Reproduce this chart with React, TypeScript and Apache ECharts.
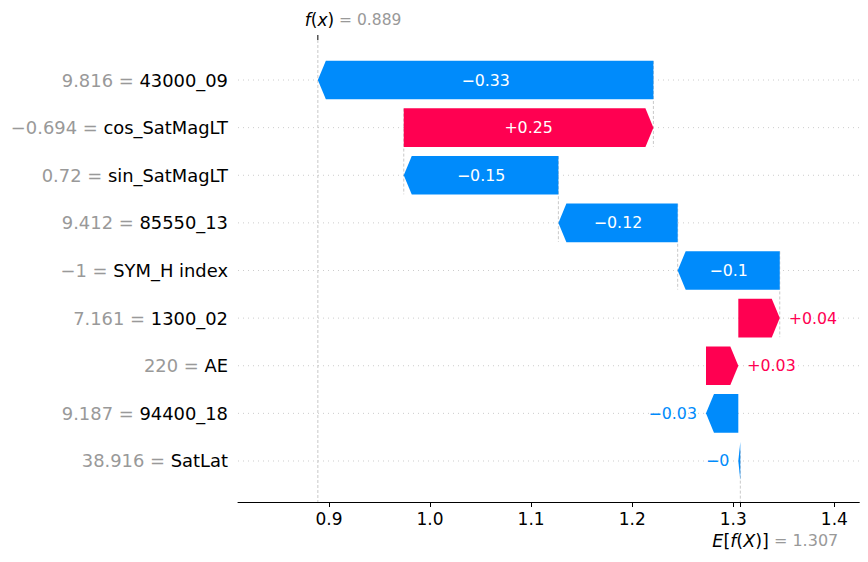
import React, { useEffect, useRef } from "react";
import * as echarts from "echarts";

// ---- data (top row first) ----
const features = [
  "43000_09",
  "cos_SatMagLT",
  "sin_SatMagLT",
  "85550_13",
  "SYM_H index",
  "1300_02",
  "AE",
  "94400_18",
  "SatLat",
];
const featureValues = ["9.816", "\u22120.694", "0.72", "9.412", "\u22121", "7.161", "220", "9.187", "38.916"];
const shapValues = [-0.332, 0.247, -0.153, -0.118, -0.101, 0.041, 0.032, -0.032, -0.002];
const baseValue = 1.307;
const fxValue = 0.889;
const xTicks = [0.9, 1.0, 1.1, 1.2, 1.3, 1.4];
const xMin = 0.81;
const xMax = 1.4247;

const POS = "#ff0051";
const NEG = "#008bfb";
const FONT = "DejaVu Sans";

// cumulative starts / ends, accumulated from the base value at the bottom upwards
const starts: number[] = new Array(features.length);
const ends: number[] = new Array(features.length);
{
  let cum = baseValue;
  for (let i = features.length - 1; i >= 0; i--) {
    starts[i] = cum;
    ends[i] = cum + shapValues[i];
    cum = ends[i];
  }
}

const fmtShap = (v: number) => {
  const a = Number(Math.abs(v).toFixed(2)).toString();
  return (v > 0 ? "+" : "\u2212") + a;
};

export default function App() {
  const ref = useRef<HTMLDivElement>(null);
  useEffect(() => {
    if (!ref.current) return;
    const chart = echarts.init(ref.current, null, { renderer: "svg" });
    const n = features.length;
    const TOP_EXT = 0.84; // axes top above first row (in bands)
    const BOT_EXT = 0.86; // axes bottom below last row (in bands)

    const option: any = {
      animation: false,
      grid: { left: 238, right: 8.7, top: 56.2, bottom: 77.2 },
      xAxis: {
        type: "value",
        min: xMin,
        max: xMax,
        position: "bottom",
        offset: 17.2,
        axisLine: { show: true, lineStyle: { color: "#000", width: 1 } },
        axisTick: {
          show: true,
          length: 5,
          customValues: [...xTicks, baseValue],
          lineStyle: { color: "#000", width: 1 },
        },
        axisLabel: {
          customValues: xTicks,
          formatter: (v: number) => v.toFixed(1),
          fontFamily: FONT,
          fontSize: 17,
          color: "#000",
          margin: 8,
        },
        splitLine: { show: false },
      },
      yAxis: {
        type: "category",
        data: features,
        inverse: true,
        axisLine: { show: false },
        axisTick: { show: false },
        splitLine: { show: false },
        axisLabel: {
          margin: 10,
          formatter: (val: string, idx: number) => `{v|${featureValues[idx]} = }{n|${val}}`,
          rich: {
            v: { fontFamily: FONT, fontSize: 17.9, color: "#999999" },
            n: { fontFamily: FONT, fontSize: 17.9, color: "#000000" },
          },
        },
      },
      series: [
        {
          type: "custom",
          name: "guides",
          silent: true,
          z: 1,
          data: features.map((_, i) => [starts[i], i]),
          encode: { x: 0, y: 1 },
          renderItem: (params: any, api: any) => {
            const s = api.value(0);
            const i = api.value(1);
            const cs = params.coordSys;
            const band = api.size([0, 1])[1];
            const p = api.coord([s, i]);
            const cy = p[1];
            const children: any[] = [
              {
                type: "line",
                shape: { x1: cs.x, y1: cy, x2: cs.x + cs.width, y2: cy },
                style: { stroke: "#cccccc", lineWidth: 1, lineDash: [1, 4] },
              },
            ];
            if (i + 4 < n && i < n - 1) {
              children.push({
                type: "line",
                shape: { x1: p[0], y1: cy - 0.4 * band, x2: p[0], y2: cy + band + 0.4 * band },
                style: { stroke: "#bbbbbb", lineWidth: 0.8, lineDash: [3, 2] },
              });
            }
            return { type: "group", children };
          },
        },
        {
          type: "custom",
          name: "annotations",
          silent: true,
          z: 1,
          data: [
            [fxValue, 0, 0],
            [baseValue, n - 1, 1],
          ],
          encode: { x: 0, y: 1 },
          renderItem: (params: any, api: any) => {
            const v = api.value(0);
            const i = api.value(1);
            const kind = api.value(2);
            const band = api.size([0, 1])[1];
            const p = api.coord([v, i]);
            const lastY = api.coord([v, n - 1])[1];
            const firstY = api.coord([v, 0])[1];
            const axTop = firstY - TOP_EXT * band;
            const axBot = lastY + BOT_EXT * band;
            const axH = axBot - axTop;
            if (kind === 0) {
              return {
                type: "group",
                children: [
                  {
                    type: "line",
                    shape: { x1: p[0], y1: axTop, x2: p[0], y2: axBot },
                    style: { stroke: "#bbbbbb", lineWidth: 0.8, lineDash: [3, 2] },
                  },
                  {
                    type: "line",
                    shape: { x1: p[0], y1: axTop - 5, x2: p[0], y2: axTop },
                    style: { stroke: "#000", lineWidth: 1 },
                  },
                  {
                    type: "text",
                    x: p[0] - 13,
                    y: axTop - 20,
                    style: {
                      text: `{it|f}{m|(}{it|x}{m|)}{g| = ${fxValue.toFixed(3)}}`,
                      verticalAlign: "middle",
                      align: "left",
                      rich: {
                        it: { fontFamily: FONT, fontSize: 17, fontStyle: "italic", fill: "#000" },
                        m: { fontFamily: FONT, fontSize: 17, fill: "#000" },
                        g: { fontFamily: FONT, fontSize: 15.5, fill: "#999999" },
                      },
                    },
                  },
                ],
              };
            }
            return {
              type: "group",
              children: [
                {
                  type: "line",
                  shape: { x1: p[0], y1: axBot - axH / n, x2: p[0], y2: axBot },
                  style: { stroke: "#bbbbbb", lineWidth: 0.8, lineDash: [3, 2] },
                },
                {
                  type: "text",
                  x: p[0] - 28,
                  y: axBot + 39,
                  style: {
                    text: `{it|E}{m|[}{it|f}{m|(}{it|X}{m|)]}{g| = ${baseValue.toFixed(3)}}`,
                    verticalAlign: "middle",
                    align: "left",
                    rich: {
                      it: { fontFamily: FONT, fontSize: 17.5, fontStyle: "italic", fill: "#000" },
                      m: { fontFamily: FONT, fontSize: 17.5, fill: "#000" },
                      g: { fontFamily: FONT, fontSize: 16, fill: "#999999" },
                    },
                  },
                },
              ],
            };
          },
        },
        {
          type: "custom",
          name: "bars",
          silent: true,
          z: 3,
          data: features.map((_, i) => [starts[i], i, ends[i], shapValues[i]]),
          encode: { x: [0, 2], y: 1 },
          renderItem: (params: any, api: any) => {
            const s = api.value(0);
            const i = api.value(1);
            const e = api.value(2);
            const v = api.value(3);
            const p0 = api.coord([s, i]);
            const p1 = api.coord([e, i]);
            const band = api.size([0, 1])[1];
            const h = band * 0.81;
            const cy = p0[1];
            const top = cy - h / 2;
            const bot = cy + h / 2;
            const dir = e >= s ? 1 : -1;
            const len = Math.abs(p1[0] - p0[0]);
            const hl = Math.min(len, 8);
            const color = v > 0 ? POS : NEG;
            const points = [
              [p0[0], top],
              [p1[0] - dir * hl, top],
              [p1[0], cy],
              [p1[0] - dir * hl, bot],
              [p0[0], bot],
            ];
            const label = fmtShap(v);
            const fs = 15.8;
            const tw = label.length * 0.6 * fs;
            const children: any[] = [
              { type: "polygon", shape: { points }, style: { fill: color } },
            ];
            if (len > tw + 6) {
              children.push({
                type: "text",
                x: (p0[0] + p1[0]) / 2,
                y: cy,
                style: {
                  text: label,
                  fill: "#ffffff",
                  fontFamily: FONT,
                  fontSize: fs,
                  align: "center",
                  verticalAlign: "middle",
                },
              });
            } else {
              children.push({
                type: "text",
                x: p1[0] + dir * 9,
                y: cy,
                style: {
                  text: label,
                  fill: color,
                  fontFamily: FONT,
                  fontSize: fs,
                  align: dir > 0 ? "left" : "right",
                  verticalAlign: "middle",
                },
              });
            }
            return { type: "group", children };
          },
        },
      ],
    };
    chart.setOption(option);
    return () => chart.dispose();
  }, []);
  return (
    <div
      ref={ref}
      style={{ position: "fixed", left: 0, top: 0, width: 868, height: 562, background: "#fff" }}
    />
  );
}
